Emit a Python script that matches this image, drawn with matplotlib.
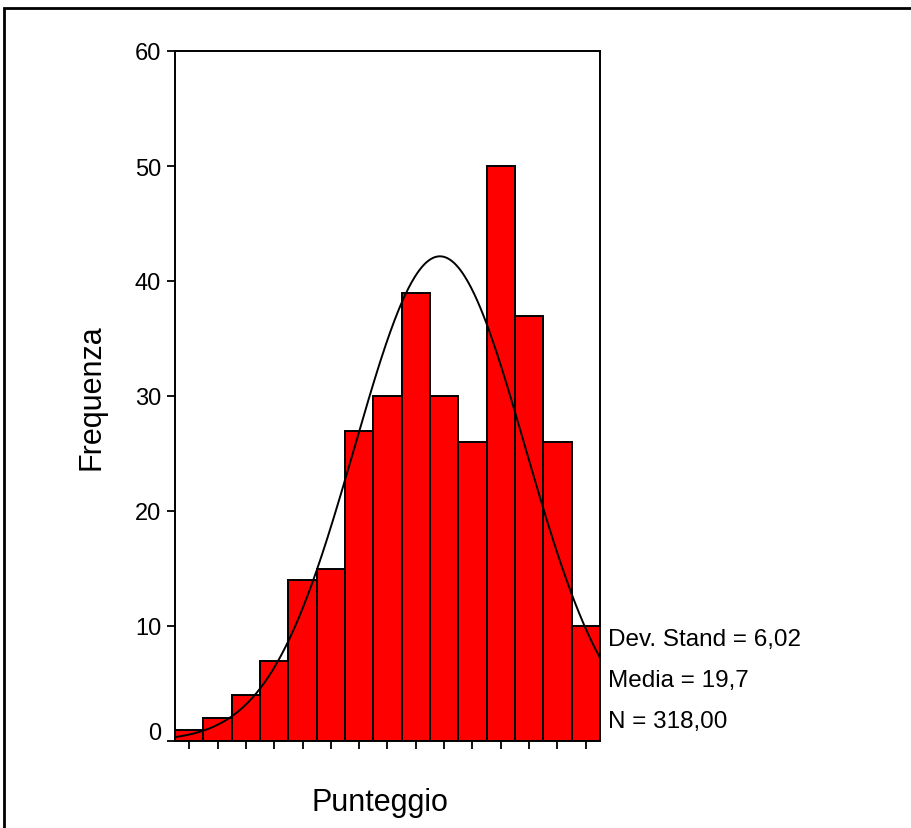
import numpy as np
import matplotlib
matplotlib.use("Agg")
import matplotlib.pyplot as plt
import matplotlib.transforms as mtransforms
from matplotlib.patches import Rectangle

plt.rcParams['font.family'] = ['Liberation Sans', 'DejaVu Sans']

# Data
bin_centers = [2, 4, 6, 8, 10, 12, 14, 16, 18, 20, 22, 24, 26, 28, 30]
frequencies = [1, 2, 4, 7, 14, 15, 27, 30, 39, 30, 26, 50, 37, 26, 10]
bin_width = 2
std_dev = 6.02
mean = 19.7
n_total = 318
y_ticks = [0, 10, 20, 30, 40, 50, 60]
stats_lines = ["Dev. Stand = 6,02", "Media = 19,7", "N = 318,00"]

fig = plt.figure(figsize=(9.11, 8.29), dpi=100)
ax = fig.add_axes([175/911, 1-742/829, 425/911, 690/829])

ax.bar(bin_centers, frequencies, width=bin_width, color='#ff0000',
       edgecolor='black', linewidth=1.4, zorder=2)

xs = np.linspace(bin_centers[0]-bin_width/2, bin_centers[-1]+bin_width/2, 400)
ys = n_total*bin_width/(std_dev*np.sqrt(2*np.pi))*np.exp(-0.5*((xs-mean)/std_dev)**2)
ax.plot(xs, ys, color='black', linewidth=1.4, zorder=3)

ax.set_xlim(bin_centers[0]-bin_width/2, bin_centers[-1]+bin_width/2)
ax.set_ylim(0, 60)
ax.set_yticks(y_ticks)
ax.set_yticklabels([str(v) for v in y_ticks], fontsize=17)
ax.set_xticks(bin_centers)
ax.set_xticklabels([])
ax.tick_params(axis='y', direction='out', length=6, width=1.3, pad=4)
ax.tick_params(axis='x', direction='out', length=6, width=1.3)
for s in ax.spines.values():
    s.set_linewidth(1.4)
    s.set_zorder(4)

# shift the "0" label up slightly as in the reference
lbl0 = ax.get_yticklabels()[0]
lbl0.set_transform(lbl0.get_transform() + mtransforms.ScaledTranslation(0, 10/100, fig.dpi_scale_trans))

ax.set_ylabel("Frequenza", fontsize=22, labelpad=20)
ax.set_xlabel("Punteggio", fontsize=22)
ax.xaxis.set_label_coords(0.482, -0.089, transform=ax.transAxes)
ax.xaxis.label.set_va('center')

for i, line in enumerate(stats_lines):
    ax.text(1.02, (742-640 - i*41)/690.0, line, transform=ax.transAxes,
            fontsize=17.5, va='center', ha='left')

fig.patches.append(Rectangle((4/911, -0.1), 1.2, (1-9/829)+0.1, transform=fig.transFigure,
                             fill=False, edgecolor='black', linewidth=2))

fig.savefig("out.png", dpi=100)
